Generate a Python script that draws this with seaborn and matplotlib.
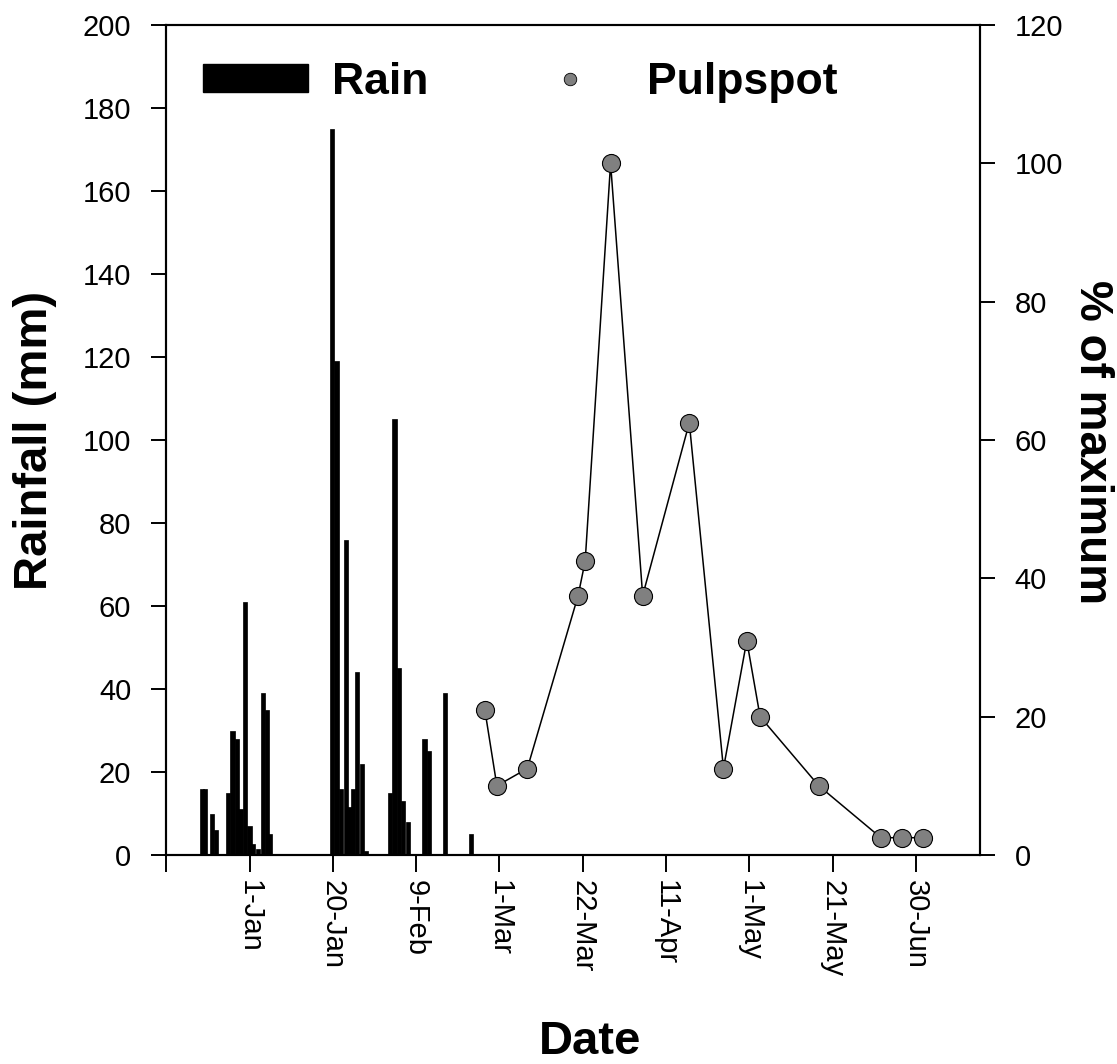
import matplotlib
matplotlib.use('Agg')
import matplotlib.pyplot as plt
import seaborn as sns
import pandas as pd
from matplotlib.patches import Patch
from matplotlib.lines import Line2D

# ---- data (x in days relative to 1-Jan, on the chart's linear date axis) ----
rain_day = [-11.5, -10.7, -9.1, -8.0, -5.2, -4.1, -2.95, -2.15, -1.08, 0.0, 0.8, 2.0, 3.2, 4.25, 5.0,
            19.85, 20.9, 22.0, 23.2, 24.0, 24.85, 25.9, 27.05, 28.0,
            33.7, 34.8, 35.9, 36.9, 38.0, 42.0, 43.1, 46.9, 53.1]
rain_mm = [16, 16, 10, 6, 15, 30, 28, 11, 61, 7, 2.6, 1.5, 39, 35, 5,
           175, 119, 16, 76, 11.5, 16, 44, 22, 1,
           15, 105, 45, 13, 8, 28, 25, 39, 5]

pulp_day = [56.5, 59.4, 66.7, 78.9, 80.6, 86.7, 94.4, 105.6, 113.8, 119.4, 122.6, 136.7, 151.6, 156.7, 161.8]
pulp_pct = [21, 10, 12.5, 37.5, 42.5, 100, 37.5, 62.5, 12.5, 31, 20, 10, 2.5, 2.5, 2.5]

x_tick_days = [-20, 0, 20, 40, 60, 80, 100, 120, 140, 160]
x_tick_labels = ['', '1-Jan', '20-Jan', '9-Feb', '1-Mar', '22-Mar', '11-Apr', '1-May', '21-May', '30-Jun']
left_ticks = list(range(0, 201, 20))
right_ticks = list(range(0, 121, 20))

sns.set_theme(style='ticks')
plt.rcParams['font.family'] = ['Liberation Sans', 'DejaVu Sans']
plt.rcParams['text.color'] = 'black'
plt.rcParams['axes.labelcolor'] = 'black'
plt.rcParams['xtick.color'] = 'black'
plt.rcParams['ytick.color'] = 'black'

W, H = 1117, 1064
fig = plt.figure(figsize=(W / 100, H / 100), dpi=100)
ax = fig.add_axes([166 / W, 1 - 855 / H, 814 / W, 830 / H])

ax.bar(rain_day, rain_mm, width=1.0, color='black', edgecolor='black', linewidth=0.5,
       align='center', zorder=2)
ax.set_ylim(0, 200)
ax.set_yticks(left_ticks)

ax2 = ax.twinx()
df = pd.DataFrame({'day': pulp_day, 'pct': pulp_pct})
sns.lineplot(data=df, x='day', y='pct', ax=ax2, color='black', linewidth=1.1,
             marker='o', markersize=13, markerfacecolor='#808080',
             markeredgecolor='black', markeredgewidth=0.8, sort=False, estimator=None)
ax2.set_ylim(0, 120)
ax2.set_yticks(right_ticks)

ax.set_xlim(-20.05, 175.4)
ax.set_xticks(x_tick_days)
ax.set_xticklabels(x_tick_labels)

for a in (ax, ax2):
    for s in a.spines.values():
        s.set_visible(True)
        s.set_linewidth(1.5)
        s.set_color('black')

ax.tick_params(axis='y', direction='out', length=11, width=1.4, pad=14, labelsize=21,
               colors='black', left=True, right=False)
ax.tick_params(axis='x', direction='out', length=12, width=1.4, pad=6, labelsize=21,
               colors='black', labelrotation=-90, bottom=True)
ax2.tick_params(axis='y', direction='out', length=11, width=1.4, pad=14, labelsize=21,
                colors='black', right=True)

ax.set_xlabel('Date', fontsize=34, fontweight='bold', color='black')
ax.xaxis.set_label_coords(0.521, -0.225)
ax.xaxis.label.set_va('center')

ax.set_ylabel('Rainfall (mm)', fontsize=34, fontweight='bold', color='black')
ax.yaxis.set_label_coords(-0.161, 0.5)
ax.yaxis.label.set_va('center')

ax2.set_ylabel('% of maximum', fontsize=33, fontweight='bold', color='black', rotation=-90)
ax2.yaxis.set_label_coords(1.1376, 0.497)
ax2.yaxis.label.set_va('center')
ax2.yaxis.label.set_ha('center')

handles = [Patch(facecolor='black', edgecolor='black'),
           Line2D([], [], linestyle='none', marker='o', markersize=9,
                  markerfacecolor='#808080', markeredgecolor='black', markeredgewidth=0.6)]
leg = ax2.legend(handles, ['Rain', 'Pulpspot'], loc='center left', bbox_to_anchor=(0.045, 0.931),
                 ncol=2, frameon=False, prop={'weight': 'bold', 'size': 32},
                 handlelength=2.36, handleheight=0.61, handletextpad=0.56, columnspacing=2.0,
                 borderpad=0, borderaxespad=0)
for t in leg.get_texts():
    t.set_color('black')

fig.savefig('out.png', dpi=100, facecolor='white')
